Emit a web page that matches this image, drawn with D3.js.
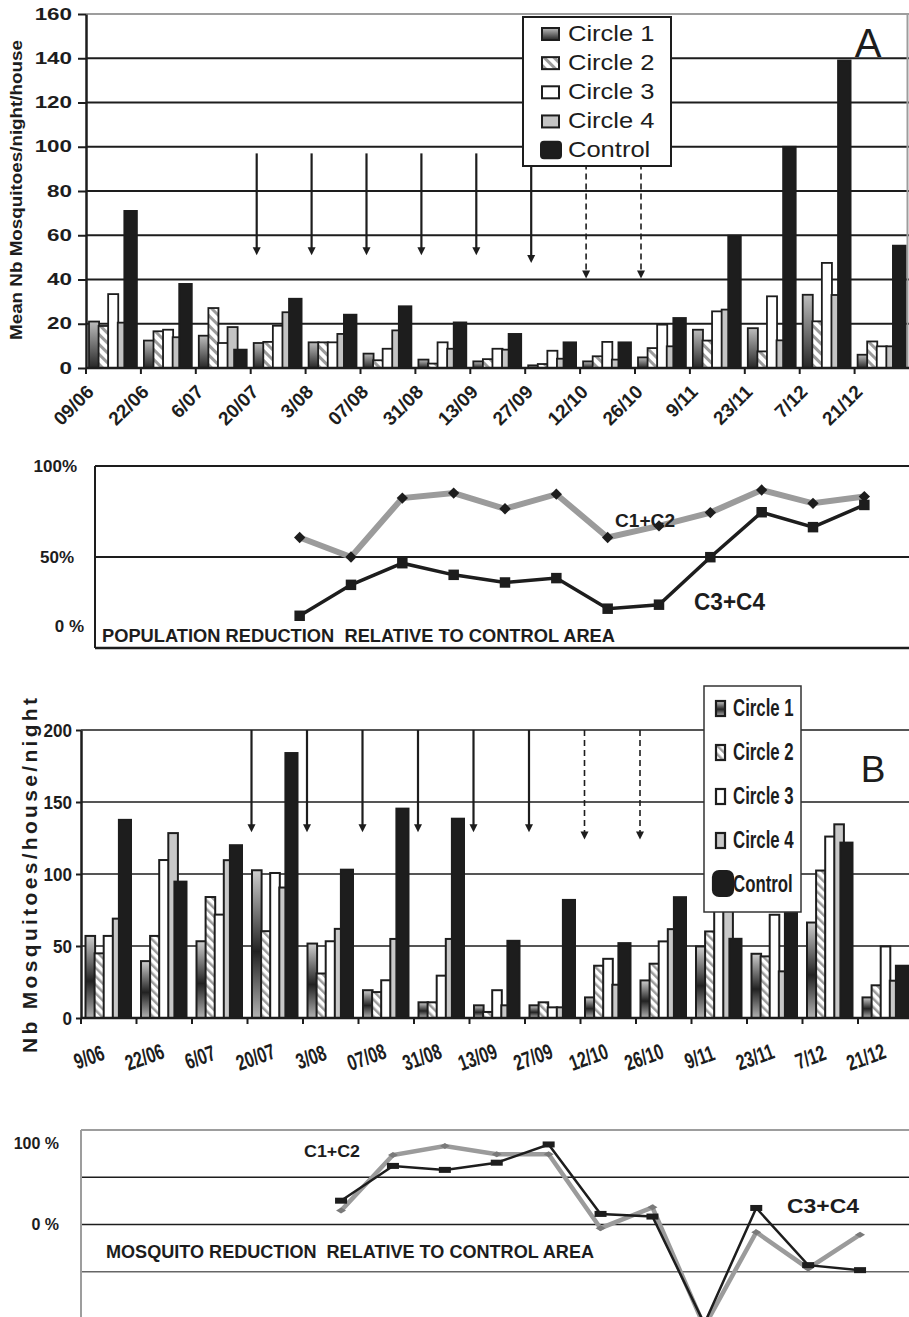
<!DOCTYPE html>
<html>
<head>
<meta charset="utf-8">
<script src="https://cdn.jsdelivr.net/npm/d3@7"></script>
<style>
  body { margin: 0; background: #fff; }
  svg { display: block; font-family: "Liberation Sans", Arial, Helvetica, sans-serif; }
</style>
</head>
<body>
<svg id="fig" width="909" height="1317"></svg>
<script>
/* Categories */
const datesA = ["09/06", "22/06", "6/07", "20/07", "3/08", "07/08", "31/08", "13/09", "27/09", "12/10", "26/10", "9/11", "23/11", "7/12", "21/12"];
const datesB = ["9/06", "22/06", "6/07", "20/07", "3/08", "07/08", "31/08", "13/09", "27/09", "12/10", "26/10", "9/11", "23/11", "7/12", "21/12"];
const series = ["Circle 1", "Circle 2", "Circle 3", "Circle 4", "Control"];

/* Panel A: mean nb mosquitoes / night / house */
const aCircle1 = [21, 12.4, 14.6, 11.3, 11.6, 6.5, 3.8, 3, 1.2, 3, 4.8, 17.3, 18, 33.1, 6];
const aCircle2 = [19, 16.6, 27.1, 11.8, 11.6, 3.5, 2, 4, 1.8, 5.3, 9, 12.4, 7.5, 21.1, 12];
const aCircle3 = [33.4, 17.3, 11.3, 19.1, 11.6, 8.7, 11.6, 8.7, 7.8, 11.8, 19.6, 25.6, 32.4, 47.5, 9.8];
const aCircle4 = [20.5, 13.9, 18.5, 25.2, 15.4, 17, 8.7, 8.3, 4.2, 3.8, 9.8, 26.4, 12.5, 33, 9.8];
const aControl = [71, 38, 8.3, 31.3, 24.1, 27.9, 20.6, 15.4, 11.6, 11.6, 22.6, 59.8, 100, 139, 55.3];

/* Panel B: nb mosquitoes / house / night */
const bCircle1 = [57, 39.5, 53.3, 102.6, 51.7, 19.3, 10.9, 8.8, 8.8, 14.3, 26.1, 49.7, 44.6, 66.3, 14.3];
const bCircle2 = [44.9, 57, 84, 60.3, 30.9, 18, 10.9, 4.2, 10.9, 36.3, 37.7, 60.1, 42.8, 102.4, 22.7];
const bCircle3 = [57, 109.7, 71.8, 100.7, 53.3, 26.2, 29.4, 19.3, 7.4, 41.1, 53.2, 80, 71.7, 126, 49.7];
const bCircle4 = [69, 128.4, 109.6, 90.6, 61.9, 54.9, 54.9, 8.8, 7.4, 23.1, 61.7, 78, 32.4, 134.5, 25.9];
const bControl = [137.6, 94.7, 120, 184, 103, 145.4, 138.4, 53.6, 82, 52, 83.9, 55, 90, 121.8, 36.3];

/* Reduction relative to control area (%) */
const popDates = ["20/07", "3/08", "07/08", "31/08", "13/09", "27/09", "12/10", "26/10", "9/11", "23/11", "7/12", "21/12"];
const popC12 = [60.7, 50, 82.4, 85.1, 76.5, 84.5, 60.7, 67.1, 74.4, 86.8, 79.5, 83.2];
const popC34 = [17.7, 34.7, 46.6, 40.2, 36, 38.4, 21.6, 23.8, 49.9, 74.6, 66.4, 78.6];
const mosqDates = ["3/08", "07/08", "31/08", "13/09", "27/09", "12/10", "26/10", "9/11", "23/11", "7/12", "21/12"];
const mosqC12 = [14.7, 73.5, 83, 74.3, 74.3, -3.9, 18.2, -108, -8.1, -46.5, -10.8];
const mosqC34 = [25.2, 62, 57.8, 65.4, 84.7, 11.2, 8.4, -105, 17.5, -43, -48.3];

/* Treatments (arrows): solid = done, dashed = planned */
const sprayDates = ["20/07", "3/08", "07/08", "31/08", "13/09", "27/09"];
const plannedDates = ["12/10", "26/10"];
const sprayEndA = [51, 51, 51, 51, 51, 47.5];
const plannedEndA = [40.5, 40.5];
const sprayEndB = [129, 129, 129, 129, 129, 129];
const plannedEndB = [124, 124];

/* ---------- drawing ---------- */
const svg = d3.select("#fig");
const W = 909;
const ink = "#1d1d1d";

/* squeeze or widen a text to k times its natural length */
function stretch(sel, k, mode) {
  if (!k || k === 1) return;
  sel.each(function () {
    const w = this.getComputedTextLength();
    d3.select(this).attr("textLength", w * k).attr("lengthAdjust", mode || "spacingAndGlyphs");
  });
}

/* fills */
const defs = svg.append("defs");
function grad(id, stops) {
  const g = defs.append("linearGradient").attr("id", id)
    .attr("x1", 0).attr("y1", 0).attr("x2", 0).attr("y2", 1);
  stops.forEach(s => g.append("stop").attr("offset", s[0]).attr("stop-color", s[1]));
}
grad("gA", [[0, "#bdbdbd"], [1, "#262626"]]);
grad("gB", [[0, "#cfcfcf"], [0.55, "#222"], [1, "#b3b3b3"]]);
function hatch(id, size, stripe) {
  const p = defs.append("pattern").attr("id", id).attr("patternUnits", "userSpaceOnUse")
    .attr("width", size).attr("height", size).attr("patternTransform", "rotate(-45)");
  p.append("rect").attr("width", size).attr("height", size).attr("fill", "#fff");
  p.append("rect").attr("width", stripe).attr("height", size).attr("fill", "#9c9c9c");
}
hatch("hA", 7, 3);
hatch("hB", 6, 2.5);
const fillsA = ["url(#gA)", "url(#hA)", "#fff", "#c4c4c4", ink];
const fillsB = ["url(#gB)", "url(#hB)", "#fff", "#c8c8c8", ink];

function barPanel(p) {
  const g = svg.append("g");
  const x0 = d3.scaleBand().domain(p.dates).range(p.xRange);
  const y = d3.scaleLinear().domain(p.yDomain).range(p.yRange);
  const bw = x0.bandwidth();
  const x1 = d3.scaleBand().domain(series).range([p.inset, bw - p.inset - 1]);
  const left = p.xRange[0], base = y(0);

  /* gridlines */
  g.selectAll(".grid").data(p.grid).join("line")
    .attr("x1", left).attr("x2", W).attr("y1", d => y(d)).attr("y2", d => y(d))
    .attr("stroke", d => (p.topGray && d === p.yDomain[1]) ? "#9d9d9d" : ink)
    .attr("stroke-width", p.gridWidth);
  if (p.topGray) {
    g.append("line").attr("x1", W - 1.5).attr("x2", W - 1.5).attr("y1", y(p.yDomain[1])).attr("y2", base)
      .attr("stroke", "#9d9d9d").attr("stroke-width", 2);
  }

  /* bars */
  series.forEach((s, si) => {
    const ctrl = s === "Control";
    g.append("g").selectAll("rect").data(p.values[si]).join("rect")
      .attr("x", (d, i) => x0(p.dates[i]) + x1(s) - (ctrl ? 3 : 0))
      .attr("y", d => y(d))
      .attr("width", x1.bandwidth() + (ctrl ? 3 : 0.5))
      .attr("height", d => base - y(d))
      .attr("fill", p.fills[si])
      .attr("stroke", ink).attr("stroke-width", p.barStroke);
  });

  /* y axis */
  const ya = g.append("g").attr("transform", `translate(${left},0)`)
    .call(d3.axisLeft(y).tickValues(p.ticks).tickSize(p.tickLen).tickSizeOuter(0).tickPadding(p.tickPad))
    .attr("font-family", null).attr("font-size", null);
  ya.select(".domain").attr("stroke", ink).attr("stroke-width", p.axisWidth);
  ya.selectAll(".tick line").attr("stroke", ink).attr("stroke-width", 2);
  ya.selectAll(".tick text").attr("fill", ink).attr("font-size", p.tickFont)
    .attr("font-weight", "bold").call(stretch, p.tickStretch);

  /* x axis */
  g.append("line").attr("x1", left).attr("x2", W).attr("y1", base).attr("y2", base)
    .attr("stroke", ink).attr("stroke-width", p.axisWidth);
  g.selectAll(".xt").data(p.dates).join("line")
    .attr("x1", d => x0(d)).attr("x2", d => x0(d)).attr("y1", base).attr("y2", base + 6)
    .attr("stroke", ink).attr("stroke-width", 2);
  g.selectAll(".xl").data(p.dates).join("text")
    .attr("transform", d => `translate(${x0(d) + p.labelDx},${base + p.labelDy}) rotate(${p.labelAngle})`)
    .attr("text-anchor", p.labelAnchor)
    .attr("dy", p.labelAnchor === "middle" ? "0.35em" : 0)
    .attr("font-size", p.labelFont).attr("font-weight", "bold").attr("fill", ink)
    .text(d => d)
    .call(stretch, p.labelStretch);

  /* treatment arrows */
  const arrows = p.spray.map((d, i) => ({ date: d, end: p.sprayEnd[i], dashed: false }))
    .concat(p.planned.map((d, i) => ({ date: d, end: p.plannedEnd[i], dashed: true })));
  arrows.forEach(a => {
    const ax = x0(a.date) + p.arrowDx, y2 = y(a.end);
    g.append("line").attr("x1", ax).attr("x2", ax).attr("y1", y(p.arrowTop)).attr("y2", y2 - 7)
      .attr("stroke", ink).attr("stroke-width", a.dashed ? 1.6 : 2.2)
      .attr("stroke-dasharray", a.dashed ? "6,4" : null);
    g.append("path").attr("d", `M${ax - 4},${y2 - 8}L${ax + 4},${y2 - 8}L${ax},${y2}Z`).attr("fill", ink);
  });
  return g;
}

function legendBox(p) {
  const g = svg.append("g");
  g.append("rect").attr("x", p.x).attr("y", p.y).attr("width", p.w).attr("height", p.h)
    .attr("fill", "#fff").attr("stroke", p.borderColor).attr("stroke-width", p.border);
  const it = g.selectAll(".it").data(series).join("g")
    .attr("transform", (d, i) => `translate(0,${p.first + i * p.step})`);
  it.append("rect")
    .attr("x", d => d === "Control" ? p.swCtrl.x : p.sw.x)
    .attr("y", d => d === "Control" ? -p.swCtrl.top : -p.sw.top)
    .attr("width", d => d === "Control" ? p.swCtrl.w : p.sw.w)
    .attr("height", d => d === "Control" ? p.swCtrl.h : p.sw.h)
    .attr("rx", d => d === "Control" ? p.swCtrl.rx : 0)
    .attr("fill", (d, i) => p.fills[i])
    .attr("stroke", ink).attr("stroke-width", p.swStroke);
  it.append("text").attr("x", p.textX).attr("font-size", p.font)
    .attr("font-weight", p.weight).attr("fill", ink)
    .text(d => d).call(stretch, p.stretch);
}

/* ---------- Panel A ---------- */
barPanel({
  dates: datesA, values: [aCircle1, aCircle2, aCircle3, aCircle4, aControl], fills: fillsA,
  xRange: [86, 86 + 15 * 54.9], yDomain: [0, 160], yRange: [368, 14], inset: 3,
  ticks: d3.range(0, 161, 20), grid: d3.range(20, 161, 20), gridWidth: 2, topGray: true,
  barStroke: 1.8, axisWidth: 2.5, tickLen: 8, tickPad: 6, tickFont: 16, tickStretch: 1.4,
  labelDx: 9, labelDy: 25, labelAngle: -45, labelAnchor: "end", labelFont: 19, labelStretch: 1,
  spray: sprayDates, sprayEnd: sprayEndA, planned: plannedDates, plannedEnd: plannedEndA,
  arrowTop: 97, arrowDx: 6
});
svg.append("text")
  .attr("transform", "translate(21.5,190) rotate(-90)")
  .attr("text-anchor", "middle").attr("font-size", 16).attr("font-weight", "bold").attr("fill", ink)
  .attr("textLength", 300).attr("lengthAdjust", "spacingAndGlyphs")
  .text("Mean Nb Mosquitoes/night/house");
legendBox({
  x: 523, y: 17, w: 148, h: 149, border: 2, borderColor: ink,
  first: 40.7, step: 29.15, fills: fillsA, swStroke: 2,
  sw: { x: 542, w: 17, h: 12, top: 12.7 }, swCtrl: { x: 541, w: 20, h: 16.5, top: 15.6, rx: 3 },
  textX: 568, font: 22, weight: "normal", stretch: 1.16
});
svg.append("text").attr("x", 868).attr("y", 57.3).attr("text-anchor", "middle")
  .attr("font-size", 40).attr("fill", ink).text("A");

/* ---------- Population reduction (A) ---------- */
const gL1 = svg.append("g");
const xL1 = d3.scaleBand().domain(datesA).range([120, 890]);
const yL1 = d3.scaleLinear().domain([0, 100]).range([648, 466]);
const cL1 = d => xL1(d) + xL1.bandwidth() / 2;
gL1.selectAll(".h").data([100, 50, 0]).join("line")
  .attr("x1", 95).attr("x2", W).attr("y1", d => yL1(d)).attr("y2", d => yL1(d))
  .attr("stroke", ink).attr("stroke-width", d => d === 0 ? 2.5 : 2);
gL1.append("line").attr("x1", 95).attr("x2", 95).attr("y1", yL1(100)).attr("y2", yL1(0))
  .attr("stroke", ink).attr("stroke-width", 2);
const ax1 = gL1.append("g").attr("transform", "translate(95,0)")
  .call(d3.axisLeft(yL1).tickValues([0, 50, 100]).tickSize(0).tickPadding(18)
    .tickFormat(d => d === 0 ? "0 %" : d + "%"))
  .attr("font-family", null).attr("font-size", null);
ax1.select(".domain").remove();
ax1.selectAll(".tick text").attr("fill", ink).attr("font-size", 17).attr("font-weight", "bold")
  .attr("dx", d => d === 0 ? 7 : d === 50 ? -3 : 0)
  .attr("y", d => d === 0 ? -22 : 0);
gL1.append("path").datum(popC12)
  .attr("d", d3.line().x((d, i) => cL1(popDates[i])).y(d => yL1(d)))
  .attr("fill", "none").attr("stroke", "#9b9b9b").attr("stroke-width", 6);
gL1.selectAll(".dm").data(popC12).join("path")
  .attr("transform", (d, i) => `translate(${cL1(popDates[i])},${yL1(d)}) rotate(45)`)
  .attr("d", d3.symbol(d3.symbolSquare, 64)).attr("fill", ink);
gL1.append("path").datum(popC34)
  .attr("d", d3.line().x((d, i) => cL1(popDates[i])).y(d => yL1(d)))
  .attr("fill", "none").attr("stroke", ink).attr("stroke-width", 3.5);
gL1.selectAll(".sq").data(popC34).join("path")
  .attr("transform", (d, i) => `translate(${cL1(popDates[i])},${yL1(d)})`)
  .attr("d", d3.symbol(d3.symbolSquare, 110)).attr("fill", ink);
gL1.append("text").attr("x", 615).attr("y", 526.7).attr("font-size", 18).attr("font-weight", "bold")
  .attr("fill", ink).attr("textLength", 60).attr("lengthAdjust", "spacingAndGlyphs").text("C1+C2");
gL1.append("text").attr("x", 694).attr("y", 610).attr("font-size", 23).attr("font-weight", "bold")
  .attr("fill", ink).attr("textLength", 71).attr("lengthAdjust", "spacingAndGlyphs").text("C3+C4");
gL1.append("text").attr("x", 102).attr("y", 642).attr("font-size", 18).attr("font-weight", "bold")
  .attr("fill", ink).attr("textLength", 513).attr("lengthAdjust", "spacingAndGlyphs")
  .style("white-space", "pre")
  .text("POPULATION REDUCTION  RELATIVE TO CONTROL AREA");

/* ---------- Panel B ---------- */
barPanel({
  dates: datesB, values: [bCircle1, bCircle2, bCircle3, bCircle4, bControl], fills: fillsB,
  xRange: [81, 81 + 15 * 55.5], yDomain: [0, 200], yRange: [1018, 730], inset: 4.5,
  ticks: d3.range(0, 201, 50), grid: d3.range(50, 201, 50), gridWidth: 1.4, topGray: false,
  barStroke: 2, axisWidth: 2.5, tickLen: 5, tickPad: 4, tickFont: 19, tickStretch: 0.9,
  labelDx: 8, labelDy: 39, labelAngle: -20, labelAnchor: "middle", labelFont: 22, labelStretch: 0.72,
  spray: sprayDates, sprayEnd: sprayEndB, planned: plannedDates, plannedEnd: plannedEndB,
  arrowTop: 200, arrowDx: 4
});
svg.append("text")
  .attr("transform", "translate(37,875.5) rotate(-90)")
  .attr("text-anchor", "middle").attr("font-size", 21).attr("font-weight", "bold").attr("fill", ink)
  .attr("textLength", 355).attr("lengthAdjust", "spacing")
  .text("Nb Mosquitoes/house/night");
legendBox({
  x: 704, y: 686, w: 97, h: 226, border: 1.5, borderColor: "#333",
  first: 716, step: 44, fills: fillsB, swStroke: 2.2,
  sw: { x: 716, w: 9, h: 15, top: 15 }, swCtrl: { x: 713, w: 20, h: 25, top: 21, rx: 6 },
  textX: 733, font: 23, weight: "bold", stretch: 0.73
});
svg.append("text").attr("x", 873).attr("y", 781.7).attr("text-anchor", "middle")
  .attr("font-size", 37).attr("fill", ink).text("B");

/* ---------- Mosquito reduction (B) ---------- */
const gL2 = svg.append("g");
const xL2 = d3.scaleBand().domain(datesB).range([107.5, 886]);
const yL2 = d3.scaleLinear().domain([-100, 100]).range([1319, 1130]);
const cL2 = d => xL2(d) + xL2.bandwidth() / 2;
gL2.selectAll(".h").data([50, 0, -50]).join("line")
  .attr("x1", 81).attr("x2", W).attr("y1", d => yL2(d)).attr("y2", d => yL2(d))
  .attr("stroke", d => d < 0 ? "#666" : ink).attr("stroke-width", 1.4);
gL2.append("line").attr("x1", 81).attr("x2", W).attr("y1", yL2(100)).attr("y2", yL2(100))
  .attr("stroke", "#9d9d9d").attr("stroke-width", 2);
gL2.append("line").attr("x1", 81).attr("x2", 81).attr("y1", yL2(100)).attr("y2", 1317)
  .attr("stroke", "#9d9d9d").attr("stroke-width", 2);
const ax2 = gL2.append("g").attr("transform", "translate(81,0)")
  .call(d3.axisLeft(yL2).tickValues([0, 100]).tickSize(0).tickPadding(22).tickFormat(d => d + " %"))
  .attr("font-family", null).attr("font-size", null);
ax2.select(".domain").remove();
ax2.selectAll(".tick text").attr("fill", ink).attr("font-size", 16).attr("font-weight", "bold")
  .attr("y", d => d === 100 ? 13 : 0);
gL2.append("path").datum(mosqC12)
  .attr("d", d3.line().x((d, i) => cL2(mosqDates[i])).y(d => yL2(d)))
  .attr("fill", "none").attr("stroke", "#9b9b9b").attr("stroke-width", 4.5);
gL2.selectAll(".dm").data(mosqC12).join("path")
  .attr("transform", (d, i) => `translate(${cL2(mosqDates[i])},${yL2(d)})`)
  .attr("d", "M-5,0L0,-3L5,0L0,3Z").attr("fill", "#7a7a7a");
gL2.append("path").datum(mosqC34)
  .attr("d", d3.line().x((d, i) => cL2(mosqDates[i])).y(d => yL2(d)))
  .attr("fill", "none").attr("stroke", ink).attr("stroke-width", 2.5);
gL2.selectAll(".sq").data(mosqC34).join("rect")
  .attr("x", (d, i) => cL2(mosqDates[i]) - 6).attr("y", d => yL2(d) - 3)
  .attr("width", 12).attr("height", 6).attr("fill", ink);
gL2.append("text").attr("x", 304).attr("y", 1157).attr("font-size", 16).attr("font-weight", "bold")
  .attr("fill", ink).attr("textLength", 56).attr("lengthAdjust", "spacingAndGlyphs").text("C1+C2");
gL2.append("text").attr("x", 787).attr("y", 1213).attr("font-size", 21).attr("font-weight", "bold")
  .attr("fill", ink).attr("textLength", 72).attr("lengthAdjust", "spacingAndGlyphs").text("C3+C4");
gL2.append("text").attr("x", 106).attr("y", 1258).attr("font-size", 18).attr("font-weight", "bold")
  .attr("fill", ink).attr("textLength", 488).attr("lengthAdjust", "spacingAndGlyphs")
  .style("white-space", "pre")
  .text("MOSQUITO REDUCTION  RELATIVE TO CONTROL AREA");
</script>
</body>
</html>
